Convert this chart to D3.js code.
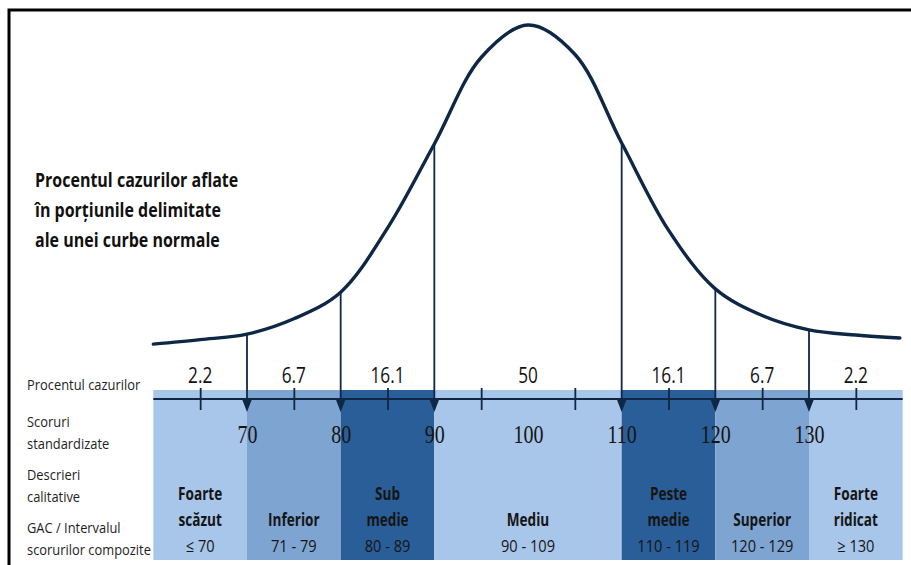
<!DOCTYPE html>
<html>
<head>
<meta charset="utf-8">
<script src="https://cdn.jsdelivr.net/npm/d3@7"></script>
<style>
html,body{margin:0;padding:0;background:#fff;}
svg{display:block;}
.sans{font-family:"Open Sans","Noto Sans",sans-serif;}
</style>
</head>
<body>
<svg id="chart" width="911" height="565"></svg>
<script>
// ---------------- data ----------------
const curveScores  = [60, 65, 70, 75, 80, 85, 90, 95, 100, 105, 110, 115, 120, 125, 130, 135, 139.7];
const curveHeights = [1.8, 3.2, 4.9, 9.6, 17.8, 37.5, 63.4, 90, 100, 91, 63.7, 36.9, 18.8, 10.6, 6.2, 4.6, 3.7];

const bandStart = [60, 70, 80, 90, 110, 120, 130];
const bandEnd   = [70, 80, 90, 110, 120, 130, 140];
const percents  = ["2.2", "6.7", "16.1", "50", "16.1", "6.7", "2.2"];
const percentAt = [65, 75, 85, 100, 115, 125, 135];
const catLine1  = ["Foarte", "", "Sub", "", "Peste", "", "Foarte"];
const catLine2  = ["scăzut", "Inferior", "medie", "Mediu", "medie", "Superior", "ridicat"];
const catRange  = ["≤ 70", "71 - 79", "80 - 89", "90 - 109", "110 - 119", "120 - 129", "≥ 130"];

const cutScores   = [70, 80, 90, 110, 120, 130];
const scoreLabels = [70, 80, 90, 100, 110, 120, 130];
const minorTicks  = [65, 75, 85, 95, 105, 115, 125, 135];

const titleLines = ["Procentul cazurilor aflate", "în porțiunile delimitate", "ale unei curbe normale"];
const rowLabels  = [["Procentul cazurilor"], ["Scoruri", "standardizate"], ["Descrieri", "calitative"], ["GAC / Intervalul", "scorurilor compozite"]];

// ---------------- drawing ----------------
const svg = d3.select("#chart");
const x = d3.scaleLinear().domain([70, 130]).range([247, 809]);
const y = d3.scaleLinear().domain([0, 100]).range([350, 25]);
const axisY = 399;
const navy = "#0e2744";

const shade = d3.scaleOrdinal()
  .domain(["2.2", "6.7", "16.1", "50"])
  .range(["#a8c6e9", "#7ea4d1", "#2a5e98", "#a8c6e9"]);

// condensed text helper
function ctext(g, px, py, str, sx, anchor) {
  return g.append("text")
    .attr("transform", `translate(${px},${py}) scale(${sx},1)`)
    .attr("text-anchor", anchor || "start")
    .text(str);
}

// frame
svg.append("rect").attr("x", 9).attr("y", 10).attr("width", 960).attr("height", 600)
  .attr("fill", "none").attr("stroke", "#000").attr("stroke-width", 3);

// bands
const bands = d3.range(bandStart.length);
svg.append("g").selectAll("rect").data(bands).join("rect")
  .attr("x", i => x(bandStart[i]))
  .attr("width", i => x(bandEnd[i]) - x(bandStart[i]))
  .attr("y", 390).attr("height", 170)
  .attr("fill", i => shade(percents[i]));

// curve
const heightAt = s => curveHeights[curveScores.indexOf(s)];
svg.append("path")
  .datum(d3.range(curveScores.length))
  .attr("fill", "none").attr("stroke", navy).attr("stroke-width", 3.4)
  .attr("stroke-linecap", "round")
  .attr("d", d3.line().x(i => x(curveScores[i])).y(i => y(curveHeights[i])).curve(d3.curveCatmullRom.alpha(0.5)));

// cut lines with arrowheads
const cuts = svg.append("g");
cuts.selectAll("line").data(cutScores).join("line")
  .attr("x1", d => x(d)).attr("x2", d => x(d))
  .attr("y1", d => y(heightAt(d))).attr("y2", axisY + 4)
  .attr("stroke", navy).attr("stroke-width", 1.8);
cuts.selectAll("path").data(cutScores).join("path")
  .attr("d", d => `M${x(d) - 5},${axisY} L${x(d) + 5},${axisY} L${x(d)},${axisY + 13} Z`)
  .attr("fill", navy);

// axis line
svg.append("line").attr("x1", x(60)).attr("x2", x(140)).attr("y1", axisY).attr("y2", axisY)
  .attr("stroke", navy).attr("stroke-width", 2.2);

// minor ticks through the axis
const tickAxis = d3.axisBottom(x).tickValues(minorTicks).tickSize(22).tickSizeOuter(0).tickFormat("");
const tg = svg.append("g").attr("transform", `translate(0,${axisY - 11})`).call(tickAxis);
tg.select(".domain").remove();
tg.selectAll(".tick line").attr("stroke", navy).attr("stroke-width", 1.8);

// score labels
const scoreAxis = d3.axisBottom(x).tickValues(scoreLabels).tickSize(0).tickSizeOuter(0).tickFormat(d3.format("d"));
const sg = svg.append("g").attr("transform", `translate(0,${axisY})`).call(scoreAxis);
sg.select(".domain").remove();
sg.selectAll(".tick text")
  .attr("y", 0).attr("dy", 0)
  .attr("transform", "translate(0,44) scale(0.8,1)")
  .attr("font-family", "'Liberation Serif','Times New Roman',serif")
  .attr("font-size", 25).attr("fill", "#151515");

// percent labels
const pg = svg.append("g").attr("class", "sans").attr("font-size", 21).attr("fill", "#111");
bands.forEach(i => ctext(pg, x(percentAt[i]), 383, percents[i], 0.82, "middle"));

// category labels
const cg = svg.append("g").attr("class", "sans").attr("fill", "#151515");
const mid = i => x((bandStart[i] + bandEnd[i]) / 2);
bands.forEach(i => {
  if (catLine1[i]) ctext(cg, mid(i), 500, catLine1[i], 0.8, "middle").attr("font-size", 17).attr("font-weight", "bold");
  ctext(cg, mid(i), 526, catLine2[i], 0.8, "middle").attr("font-size", 17).attr("font-weight", "bold");
  ctext(cg, mid(i), 552, catRange[i], 0.86, "middle").attr("font-size", 17);
});

// row labels
const rowBase = [390, 427, 480, 533];
const rg = svg.append("g").attr("class", "sans").attr("fill", "#1e1e1e").attr("font-size", 15);
rowLabels.forEach((lines, r) => {
  lines.forEach((t, k) => ctext(rg, 27, rowBase[r] + k * 22, t, 0.86));
});

// title
const ttl = svg.append("g").attr("class", "sans").attr("fill", "#111").attr("font-size", 20).attr("font-weight", "bold");
titleLines.forEach((t, k) => ctext(ttl, 35, 187 + k * 30, t, 0.8));
</script>
</body>
</html>
